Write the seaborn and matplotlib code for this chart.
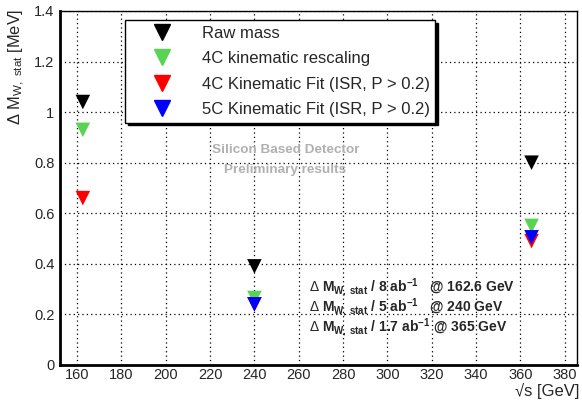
import numpy as np
import pandas as pd
import seaborn as sns
import matplotlib.pyplot as plt
from matplotlib.ticker import MultipleLocator

# dados
energias = [162.6, 240, 365]
raw_mass = [1.04, 0.39, 0.80]
rescaling_4c = [0.93, 0.265, 0.55]
fit_4c = [0.66, 0.24, 0.49]
fit_5c = [None, 0.24, 0.505]
metodos = ["Raw mass", "4C kinematic rescaling",
           "4C Kinematic Fit (ISR, P > 0.2)", "5C Kinematic Fit (ISR, P > 0.2)"]
cores = ["#000000", "#59d354", "#ff0000", "#0000ff"]
notas = [r"$\Delta$ M$_{\mathbf{W,\,stat}}$ / 8 ab$^{\mathbf{-1}}$   @ 162.6 GeV",
         r"$\Delta$ M$_{\mathbf{W,\,stat}}$ / 5 ab$^{\mathbf{-1}}$   @ 240 GeV",
         r"$\Delta$ M$_{\mathbf{W,\,stat}}$ / 1.7 ab$^{\mathbf{-1}}$ @ 365 GeV"]

linhas = []
for nome, vals in zip(metodos, [raw_mass, rescaling_4c, fit_4c, fit_5c]):
    for e, v in zip(energias, vals):
        if v is not None:
            linhas.append({"sqrt_s": e, "dm": v, "metodo": nome})
df = pd.DataFrame(linhas)

sns.set_style("white")
plt.rcParams["font.family"] = ["Liberation Sans", "DejaVu Sans"]
plt.rcParams["mathtext.fontset"] = "custom"
plt.rcParams["mathtext.rm"] = "Liberation Sans"
plt.rcParams["mathtext.bf"] = "Liberation Sans:bold"

fig = plt.figure(figsize=(5.82, 4.0), dpi=100)
ax = fig.add_axes([60 / 582, 35 / 400, 517 / 582, 354 / 400])

sns.scatterplot(data=df, x="sqrt_s", y="dm", hue="metodo", hue_order=metodos,
                palette=cores, marker="v", s=110, linewidth=0, ax=ax,
                legend=False, zorder=3)

ax.set_xlim(152.3, 385.5)
ax.set_ylim(0, 1.4)
ax.xaxis.set_major_locator(MultipleLocator(20))
ax.xaxis.set_minor_locator(MultipleLocator(5))
ax.yaxis.set_minor_locator(MultipleLocator(0.05))
ax.set_yticks(np.arange(0, 1.41, 0.2))
ax.set_yticklabels(["0", "0.2", "0.4", "0.6", "0.8", "1", "1.2", "1.4"])
ax.tick_params(which="major", direction="in", length=9, width=1, labelsize=10.5,
               color="black", pad=4)
ax.tick_params(axis="x", which="major", pad=2)
ax.tick_params(which="minor", direction="in", length=5, width=1, color="black")
ax.grid(True, which="major", linestyle=(0, (1, 2.5)), color="black", linewidth=0.9)
for s in ax.spines.values():
    s.set_color("black")
    s.set_linewidth(1)
ax.spines["left"].set_linewidth(2)
ax.spines["bottom"].set_linewidth(2)
ax.set_xlabel("")
ax.set_ylabel("")

fig.text(579 / 582, 1 / 400, "√s [GeV]", fontsize=12, ha="right", va="bottom")
fig.text(17 / 582, 1 - 9 / 400, r"$\Delta$ M$_{\mathrm{W,\ stat}}$ [MeV]", fontsize=11.8,
         rotation=90, ha="center", va="top")

# legenda com sombra
handles = [plt.Line2D([], [], marker="v", color=c, linestyle="", markersize=11)
           for c in cores]
leg = ax.legend(handles, metodos, loc="upper left", bbox_to_anchor=(125 / 582, 1 - 20 / 400),
                bbox_transform=fig.transFigure, fontsize=12, frameon=True,
                fancybox=False, shadow={"color": "black", "alpha": 1},
                edgecolor="black", handletextpad=0.45, borderpad=0.35,
                labelspacing=0.62, handlelength=3.8, borderaxespad=0)
leg.get_frame().set_linewidth(1)

ax.text(254, 0.85, "Silicon Based Detector", color="#b0b0b0",
        fontsize=9.7, fontweight="bold", ha="center", va="center")
ax.text(254, 0.772, "Preliminary results", color="#b0b0b0",
        fontsize=9.7, fontweight="bold", ha="center", va="center")

for i, t in enumerate(notas):
    ax.text(264.4, 0.308 - i * 0.079, t, fontsize=10, fontweight="bold",
            ha="left", va="center")

fig.savefig("out.png", dpi=100)
